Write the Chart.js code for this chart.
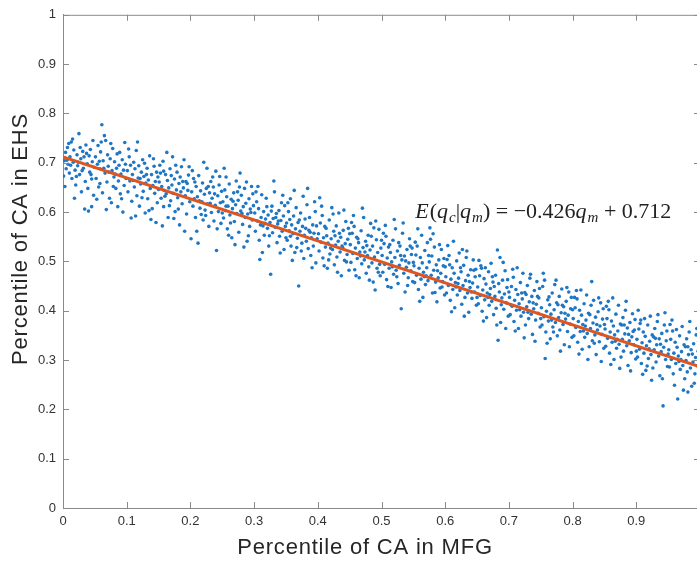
<!DOCTYPE html>
<html><head><meta charset="utf-8">
<script src="https://cdn.jsdelivr.net/npm/chart.js@4.4.0/dist/chart.umd.min.js"></script>
<style>html,body{margin:0;padding:0;overflow:hidden;background:#fff}#wrap{position:relative;width:712px;height:561px}</style>
</head><body><div id="wrap"><canvas id="c" width="712" height="561"></canvas></div>
<script>
// Scatter points: [percentile of CA in MFG, percentile of CA in EHS]
const percentileMFGvsEHS = [
[0.001,0.673],[0.002,0.704],[0.004,0.721],[0.005,0.688],[0.007,0.731],[0.008,0.697],[0.010,0.679],[0.011,0.712],[0.013,0.742],[0.014,0.668],[0.016,0.701],[0.017,0.726],[0.019,0.685],[0.020,0.655],[0.022,0.716],[0.023,0.694],[0.025,0.759],[0.026,0.676],[0.028,0.708],[0.029,0.641],[0.031,0.723],[0.032,0.689],[0.034,0.606],[0.035,0.662],[0.036,0.736],[0.038,0.698],[0.039,0.648],[0.041,0.714],[0.042,0.681],[0.043,0.727],[0.045,0.667],[0.046,0.702],[0.047,0.745],[0.048,0.634],[0.049,0.691],[0.044,0.676],[0.027,0.731],[0.012,0.695],[0.033,0.712],[0.040,0.602],
[0.051,0.712],[0.052,0.668],[0.054,0.697],[0.055,0.735],[0.056,0.651],[0.058,0.688],[0.059,0.722],[0.061,0.777],[0.062,0.639],[0.063,0.704],[0.065,0.755],[0.066,0.679],[0.067,0.745],[0.069,0.661],[0.070,0.716],[0.071,0.693],[0.073,0.628],[0.074,0.708],[0.076,0.619],[0.077,0.684],[0.078,0.729],[0.080,0.671],[0.081,0.702],[0.083,0.648],[0.084,0.689],[0.085,0.718],[0.087,0.663],[0.088,0.695],[0.090,0.637],[0.091,0.677],[0.093,0.706],[0.094,0.600],[0.095,0.685],[0.096,0.654],[0.098,0.697],[0.099,0.668],[0.057,0.703],[0.072,0.681],[0.086,0.611],[0.079,0.652],
[0.101,0.684],[0.102,0.641],[0.104,0.712],[0.105,0.663],[0.106,0.695],[0.108,0.622],[0.109,0.676],[0.111,0.701],[0.112,0.651],[0.113,0.688],[0.115,0.725],[0.116,0.633],[0.118,0.669],[0.119,0.694],[0.120,0.612],[0.122,0.657],[0.123,0.681],[0.125,0.706],[0.126,0.642],[0.127,0.672],[0.129,0.598],[0.130,0.659],[0.132,0.689],[0.133,0.627],[0.134,0.665],[0.136,0.714],[0.137,0.648],[0.139,0.676],[0.140,0.607],[0.141,0.654],[0.143,0.693],[0.144,0.638],[0.145,0.662],[0.147,0.681],[0.148,0.619],[0.149,0.671],[0.114,0.592],[0.128,0.699],[0.138,0.585],[0.121,0.668],
[0.151,0.661],[0.152,0.695],[0.154,0.628],[0.155,0.652],[0.157,0.703],[0.158,0.611],[0.159,0.644],[0.161,0.676],[0.162,0.637],[0.164,0.664],[0.165,0.589],[0.166,0.649],[0.168,0.688],[0.169,0.623],[0.171,0.655],[0.172,0.712],[0.173,0.638],[0.175,0.667],[0.176,0.601],[0.178,0.645],[0.179,0.681],[0.180,0.629],[0.182,0.658],[0.183,0.574],[0.185,0.641],[0.186,0.692],[0.187,0.617],[0.189,0.649],[0.190,0.706],[0.192,0.633],[0.193,0.662],[0.194,0.596],[0.196,0.644],[0.197,0.675],[0.199,0.621],[0.160,0.632],[0.174,0.587],[0.184,0.671],[0.195,0.658],[0.153,0.679],
[0.201,0.546],[0.202,0.641],[0.204,0.612],[0.205,0.668],[0.206,0.627],[0.208,0.589],[0.209,0.652],[0.211,0.631],[0.212,0.537],[0.213,0.674],[0.215,0.608],[0.216,0.643],[0.218,0.621],[0.219,0.659],[0.220,0.584],[0.222,0.636],[0.223,0.604],[0.225,0.648],[0.226,0.689],[0.227,0.617],[0.229,0.571],[0.230,0.639],[0.232,0.662],[0.233,0.599],[0.234,0.628],[0.236,0.651],[0.237,0.582],[0.239,0.614],[0.240,0.683],[0.241,0.522],[0.243,0.633],[0.244,0.601],[0.245,0.655],[0.247,0.619],[0.248,0.577],[0.249,0.642],[0.207,0.661],[0.217,0.595],[0.228,0.652],[0.238,0.637],
[0.251,0.621],[0.252,0.588],[0.254,0.645],[0.255,0.603],[0.257,0.631],[0.258,0.566],[0.259,0.612],[0.261,0.657],[0.262,0.594],[0.264,0.626],[0.265,0.548],[0.266,0.607],[0.268,0.639],[0.269,0.581],[0.271,0.615],[0.272,0.663],[0.273,0.597],[0.275,0.624],[0.276,0.559],[0.278,0.679],[0.279,0.602],[0.280,0.634],[0.282,0.575],[0.283,0.611],[0.285,0.648],[0.286,0.589],[0.287,0.618],[0.289,0.541],[0.290,0.596],[0.292,0.627],[0.293,0.571],[0.294,0.606],[0.296,0.652],[0.297,0.584],[0.299,0.613],[0.256,0.671],[0.263,0.578],[0.274,0.641],[0.284,0.529],[0.295,0.599],
[0.301,0.598],[0.302,0.561],[0.304,0.621],[0.305,0.582],[0.307,0.607],[0.308,0.543],[0.309,0.504],[0.311,0.589],[0.312,0.635],[0.314,0.572],[0.315,0.601],[0.316,0.553],[0.318,0.586],[0.319,0.628],[0.321,0.567],[0.322,0.594],[0.323,0.531],[0.325,0.579],[0.326,0.474],[0.328,0.612],[0.329,0.558],[0.330,0.587],[0.332,0.641],[0.333,0.569],[0.335,0.597],[0.336,0.538],[0.337,0.576],[0.339,0.603],[0.340,0.551],[0.342,0.583],[0.343,0.619],[0.344,0.561],[0.346,0.592],[0.347,0.524],[0.349,0.571],[0.306,0.652],[0.317,0.577],[0.327,0.602],[0.338,0.582],[0.348,0.613],
[0.351,0.578],[0.352,0.543],[0.354,0.601],[0.355,0.562],[0.357,0.627],[0.358,0.531],[0.359,0.574],[0.361,0.556],[0.362,0.592],[0.364,0.518],[0.365,0.566],[0.366,0.609],[0.368,0.547],[0.369,0.579],[0.370,0.450],[0.372,0.561],[0.373,0.598],[0.375,0.537],[0.376,0.571],[0.378,0.506],[0.379,0.553],[0.380,0.586],[0.382,0.541],[0.383,0.615],[0.385,0.526],[0.386,0.563],[0.387,0.589],[0.389,0.512],[0.390,0.548],[0.392,0.574],[0.393,0.531],[0.394,0.557],[0.396,0.601],[0.397,0.497],[0.399,0.546],[0.356,0.585],[0.367,0.528],[0.377,0.632],[0.388,0.559],[0.398,0.572],
[0.401,0.556],[0.402,0.521],[0.404,0.578],[0.405,0.539],[0.407,0.593],[0.408,0.507],[0.409,0.548],[0.411,0.571],[0.412,0.529],[0.414,0.552],[0.415,0.486],[0.416,0.537],[0.418,0.584],[0.419,0.515],[0.421,0.546],[0.422,0.609],[0.423,0.524],[0.425,0.561],[0.426,0.493],[0.428,0.533],[0.429,0.572],[0.430,0.509],[0.432,0.541],[0.433,0.598],[0.435,0.519],[0.436,0.549],[0.437,0.471],[0.439,0.528],[0.440,0.563],[0.442,0.502],[0.443,0.536],[0.444,0.581],[0.446,0.514],[0.447,0.545],[0.449,0.482],[0.406,0.612],[0.417,0.503],[0.427,0.552],[0.438,0.531],[0.448,0.567],
[0.451,0.534],[0.452,0.498],[0.454,0.557],[0.455,0.516],[0.457,0.571],[0.458,0.483],[0.459,0.527],[0.461,0.549],[0.462,0.506],[0.464,0.538],[0.465,0.467],[0.466,0.519],[0.468,0.562],[0.469,0.495],[0.471,0.528],[0.472,0.589],[0.473,0.503],[0.475,0.541],[0.476,0.476],[0.478,0.512],[0.479,0.553],[0.480,0.489],[0.482,0.523],[0.483,0.577],[0.485,0.497],[0.486,0.531],[0.487,0.458],[0.489,0.509],[0.490,0.442],[0.492,0.544],[0.493,0.486],[0.494,0.518],[0.496,0.565],[0.497,0.494],[0.499,0.527],[0.456,0.593],[0.467,0.511],[0.477,0.532],[0.488,0.568],[0.498,0.471],
[0.501,0.512],[0.502,0.478],[0.504,0.536],[0.505,0.494],[0.507,0.551],[0.508,0.463],[0.509,0.507],[0.511,0.529],[0.512,0.486],[0.514,0.518],[0.515,0.447],[0.516,0.499],[0.518,0.543],[0.519,0.474],[0.521,0.508],[0.522,0.566],[0.523,0.482],[0.525,0.521],[0.526,0.455],[0.528,0.492],[0.529,0.531],[0.531,0.404],[0.532,0.503],[0.533,0.557],[0.535,0.476],[0.536,0.511],[0.537,0.438],[0.539,0.488],[0.540,0.524],[0.542,0.467],[0.543,0.497],[0.544,0.546],[0.546,0.481],[0.547,0.514],[0.549,0.459],[0.506,0.573],[0.517,0.489],[0.527,0.538],[0.538,0.501],[0.548,0.527],
[0.551,0.491],[0.552,0.457],[0.554,0.513],[0.555,0.472],[0.557,0.566],[0.558,0.443],[0.559,0.486],[0.561,0.508],[0.562,0.464],[0.564,0.497],[0.565,0.427],[0.566,0.478],[0.568,0.522],[0.569,0.453],[0.571,0.487],[0.572,0.538],[0.573,0.461],[0.575,0.499],[0.576,0.568],[0.578,0.472],[0.579,0.511],[0.580,0.436],[0.582,0.482],[0.583,0.529],[0.585,0.458],[0.586,0.493],[0.587,0.418],[0.589,0.467],[0.590,0.503],[0.592,0.446],[0.593,0.476],[0.594,0.524],[0.596,0.459],[0.597,0.491],[0.599,0.432],[0.556,0.531],[0.567,0.469],[0.577,0.545],[0.588,0.481],[0.598,0.506],
[0.601,0.469],[0.602,0.436],[0.604,0.532],[0.605,0.451],[0.607,0.493],[0.608,0.421],[0.609,0.464],[0.611,0.487],[0.612,0.443],[0.614,0.476],[0.615,0.406],[0.616,0.457],[0.618,0.501],[0.619,0.432],[0.621,0.466],[0.622,0.517],[0.623,0.441],[0.625,0.479],[0.626,0.413],[0.628,0.451],[0.629,0.492],[0.631,0.427],[0.632,0.461],[0.633,0.508],[0.635,0.436],[0.636,0.472],[0.637,0.397],[0.639,0.447],[0.640,0.483],[0.642,0.425],[0.643,0.456],[0.644,0.503],[0.646,0.438],[0.647,0.469],[0.649,0.411],[0.606,0.512],[0.617,0.448],[0.627,0.524],[0.638,0.459],[0.648,0.484],
[0.651,0.448],[0.652,0.414],[0.654,0.471],[0.655,0.431],[0.657,0.486],[0.658,0.399],[0.659,0.442],[0.661,0.465],[0.662,0.422],[0.664,0.454],[0.665,0.386],[0.666,0.436],[0.668,0.479],[0.669,0.411],[0.671,0.445],[0.672,0.496],[0.673,0.419],[0.675,0.458],[0.676,0.392],[0.678,0.429],[0.679,0.472],[0.680,0.405],[0.682,0.523],[0.683,0.340],[0.685,0.438],[0.686,0.508],[0.687,0.376],[0.689,0.426],[0.690,0.462],[0.692,0.403],[0.693,0.434],[0.694,0.481],[0.696,0.416],[0.697,0.447],[0.699,0.389],[0.656,0.491],[0.667,0.427],[0.677,0.449],[0.688,0.412],[0.698,0.463],
[0.701,0.427],[0.702,0.392],[0.704,0.449],[0.705,0.409],[0.707,0.468],[0.708,0.378],[0.709,0.421],[0.711,0.443],[0.712,0.401],[0.714,0.433],[0.715,0.364],[0.716,0.414],[0.718,0.457],[0.719,0.389],[0.721,0.424],[0.722,0.476],[0.723,0.397],[0.725,0.437],[0.726,0.371],[0.728,0.408],[0.729,0.451],[0.731,0.384],[0.732,0.418],[0.733,0.466],[0.735,0.393],[0.736,0.429],[0.737,0.352],[0.739,0.404],[0.740,0.441],[0.742,0.381],[0.743,0.413],[0.744,0.459],[0.746,0.395],[0.747,0.426],[0.749,0.367],[0.706,0.484],[0.717,0.402],[0.727,0.433],[0.738,0.416],[0.748,0.445],
[0.751,0.406],[0.752,0.371],[0.754,0.476],[0.755,0.388],[0.757,0.303],[0.758,0.357],[0.759,0.399],[0.761,0.422],[0.762,0.379],[0.764,0.412],[0.765,0.343],[0.766,0.393],[0.768,0.436],[0.769,0.367],[0.771,0.402],[0.772,0.453],[0.773,0.376],[0.775,0.416],[0.776,0.349],[0.778,0.386],[0.779,0.429],[0.780,0.361],[0.782,0.396],[0.783,0.444],[0.785,0.372],[0.786,0.408],[0.787,0.331],[0.789,0.383],[0.790,0.419],[0.792,0.358],[0.793,0.391],[0.794,0.438],[0.796,0.373],[0.797,0.404],[0.799,0.346],[0.756,0.462],[0.767,0.381],[0.777,0.412],[0.788,0.395],[0.798,0.427],
[0.801,0.384],[0.802,0.349],[0.804,0.406],[0.805,0.366],[0.807,0.424],[0.808,0.336],[0.809,0.378],[0.811,0.401],[0.812,0.358],[0.814,0.391],[0.815,0.322],[0.816,0.372],[0.818,0.414],[0.819,0.346],[0.821,0.381],[0.822,0.432],[0.823,0.354],[0.825,0.395],[0.826,0.327],[0.828,0.364],[0.830,0.459],[0.831,0.339],[0.832,0.375],[0.833,0.421],[0.835,0.351],[0.836,0.387],[0.837,0.311],[0.839,0.361],[0.840,0.398],[0.842,0.337],[0.843,0.369],[0.844,0.416],[0.846,0.352],[0.847,0.383],[0.849,0.324],[0.806,0.441],[0.817,0.359],[0.827,0.392],[0.838,0.372],[0.848,0.404],
[0.851,0.363],[0.852,0.328],[0.854,0.384],[0.855,0.344],[0.857,0.402],[0.858,0.314],[0.859,0.357],[0.861,0.379],[0.862,0.336],[0.864,0.369],[0.865,0.301],[0.866,0.351],[0.868,0.393],[0.869,0.324],[0.871,0.359],[0.872,0.411],[0.873,0.332],[0.875,0.373],[0.876,0.306],[0.878,0.342],[0.879,0.386],[0.880,0.318],[0.882,0.353],[0.883,0.401],[0.885,0.329],[0.886,0.365],[0.887,0.289],[0.889,0.339],[0.890,0.376],[0.892,0.315],[0.893,0.347],[0.894,0.394],[0.896,0.331],[0.897,0.361],[0.899,0.302],[0.856,0.419],[0.867,0.338],[0.877,0.371],[0.888,0.352],[0.898,0.382],
[0.901,0.342],[0.902,0.306],[0.904,0.363],[0.905,0.322],[0.907,0.381],[0.908,0.293],[0.909,0.335],[0.911,0.357],[0.912,0.314],[0.914,0.348],[0.915,0.279],[0.916,0.329],[0.918,0.371],[0.919,0.303],[0.921,0.338],[0.922,0.389],[0.923,0.311],[0.925,0.351],[0.926,0.284],[0.928,0.321],[0.929,0.364],[0.931,0.296],[0.932,0.331],[0.933,0.378],[0.935,0.308],[0.936,0.343],[0.937,0.268],[0.939,0.317],[0.940,0.354],[0.942,0.207],[0.943,0.326],[0.945,0.396],[0.946,0.301],[0.947,0.339],[0.949,0.287],[0.906,0.374],[0.917,0.288],[0.927,0.347],[0.938,0.332],[0.948,0.359],
[0.951,0.321],[0.952,0.286],[0.954,0.342],[0.955,0.301],[0.957,0.359],[0.958,0.272],[0.959,0.314],[0.961,0.336],[0.962,0.293],[0.964,0.326],[0.965,0.221],[0.966,0.308],[0.968,0.349],[0.969,0.281],[0.971,0.317],[0.972,0.368],[0.973,0.289],[0.975,0.331],[0.976,0.262],[0.978,0.299],[0.979,0.343],[0.980,0.276],[0.982,0.311],[0.983,0.357],[0.985,0.284],[0.986,0.321],[0.987,0.247],[0.989,0.296],[0.990,0.333],[0.992,0.272],[0.993,0.305],[0.994,0.351],[0.996,0.288],[0.997,0.318],[0.999,0.259],[0.956,0.381],[0.967,0.297],[0.977,0.327],[0.988,0.312],[0.998,0.338]
];
const extraMFGvsEHS = [
[0.003,0.652],[0.009,0.739],[0.018,0.628],[0.024,0.701],[0.030,0.684],[0.037,0.719],[0.015,0.748],[0.045,0.611],[0.006,0.705],[0.021,0.672],
[0.053,0.626],[0.060,0.742],[0.064,0.689],[0.068,0.605],[0.075,0.739],[0.082,0.677],[0.089,0.721],[0.092,0.627],[0.097,0.741],[0.058,0.658],
[0.103,0.728],[0.107,0.588],[0.110,0.664],[0.117,0.742],[0.124,0.629],[0.131,0.676],[0.135,0.603],[0.142,0.708],[0.146,0.579],[0.150,0.646],
[0.156,0.572],[0.163,0.721],[0.167,0.613],[0.170,0.674],[0.177,0.695],[0.181,0.606],[0.188,0.662],[0.191,0.561],[0.198,0.692],[0.158,0.683],
[0.203,0.684],[0.210,0.561],[0.214,0.623],[0.221,0.701],[0.224,0.593],[0.231,0.618],[0.235,0.671],[0.242,0.566],[0.246,0.672],[0.250,0.598],
[0.253,0.689],[0.260,0.553],[0.267,0.622],[0.270,0.534],[0.277,0.651],[0.281,0.597],[0.288,0.661],[0.291,0.552],[0.298,0.637],[0.256,0.612],
[0.303,0.641],[0.310,0.574],[0.313,0.518],[0.320,0.611],[0.324,0.552],[0.331,0.663],[0.334,0.589],[0.341,0.517],[0.345,0.634],[0.350,0.548],
[0.353,0.619],[0.360,0.502],[0.363,0.644],[0.371,0.584],[0.374,0.521],[0.381,0.567],[0.384,0.648],[0.391,0.487],[0.395,0.621],[0.357,0.551],
[0.403,0.629],[0.410,0.491],[0.413,0.567],[0.420,0.527],[0.424,0.596],[0.431,0.478],[0.434,0.557],[0.441,0.604],[0.445,0.499],[0.450,0.556],
[0.453,0.579],[0.460,0.471],[0.463,0.546],[0.470,0.608],[0.474,0.519],[0.481,0.462],[0.484,0.551],[0.491,0.582],[0.495,0.478],[0.500,0.543],
[0.503,0.557],[0.510,0.449],[0.513,0.534],[0.520,0.585],[0.524,0.469],[0.530,0.512],[0.534,0.578],[0.541,0.451],[0.545,0.531],[0.550,0.498],
[0.553,0.539],[0.560,0.419],[0.563,0.553],[0.570,0.471],[0.574,0.512],[0.581,0.556],[0.584,0.437],[0.591,0.534],[0.595,0.448],[0.600,0.489],
[0.603,0.504],[0.610,0.398],[0.613,0.541],[0.620,0.455],[0.624,0.487],[0.630,0.389],[0.634,0.521],[0.641,0.438],[0.645,0.482],[0.650,0.427],
[0.653,0.502],[0.660,0.379],[0.663,0.487],[0.670,0.433],[0.674,0.469],[0.681,0.371],[0.684,0.455],[0.691,0.498],[0.695,0.364],[0.700,0.438],
[0.703,0.412],[0.710,0.359],[0.713,0.487],[0.720,0.436],[0.724,0.345],[0.730,0.397],[0.734,0.474],[0.741,0.338],[0.745,0.429],[0.750,0.384],
[0.753,0.449],[0.760,0.334],[0.763,0.428],[0.770,0.357],[0.774,0.462],[0.781,0.318],[0.784,0.411],[0.791,0.447],[0.795,0.327],[0.800,0.402],
[0.803,0.427],[0.810,0.312],[0.813,0.442],[0.820,0.369],[0.824,0.301],[0.829,0.411],[0.834,0.334],[0.841,0.426],[0.845,0.297],[0.850,0.372],
[0.853,0.409],[0.860,0.291],[0.863,0.426],[0.870,0.342],[0.874,0.283],[0.881,0.371],[0.884,0.419],[0.891,0.278],[0.895,0.358],[0.900,0.318],
[0.903,0.401],[0.910,0.271],[0.913,0.384],[0.920,0.323],[0.924,0.259],[0.930,0.344],[0.934,0.392],[0.941,0.262],[0.944,0.371],[0.950,0.312],
[0.953,0.372],[0.960,0.249],[0.963,0.362],[0.970,0.301],[0.974,0.239],[0.981,0.327],[0.984,0.378],[0.991,0.253],[0.995,0.364],[0.981,0.235]
];
const fitSlope = -0.426;
const fitIntercept = 0.712;
const fitRange = [0, 1];
const xTickValues = [0,0.1,0.2,0.3,0.4,0.5,0.6,0.7,0.8,0.9,1];
const xTickLabels = ['0','0.1','0.2','0.3','0.4','0.5','0.6','0.7','0.8','0.9','1'];
const yTickValues = [0,0.1,0.2,0.3,0.4,0.5,0.6,0.7,0.8,0.9,1];
const yTickLabels = ['0','0.1','0.2','0.3','0.4','0.5','0.6','0.7','0.8','0.9','1'];
const xAxisTitle = 'Percentile of CA in MFG';
const yAxisTitle = 'Percentile of CA in EHS';
const equationAnchor = {x: 0.553, y: 0.588};

const SANS = "'Liberation Sans', Arial, Helvetica, sans-serif";
const AXIS_COLOR = '#8a8a8a';
const TEXT_COLOR = '#333333';

const scatterData = percentileMFGvsEHS.concat(extraMFGvsEHS).map(p => ({x: p[0], y: p[1]}));
const fitData = fitRange.map(x => ({x: x, y: fitIntercept + fitSlope * x}));

const boxPlugin = {
  id: 'boxTicks',
  afterDatasetsDraw(chart) {
    const {ctx, chartArea: a, scales: {x, y}} = chart;
    ctx.save();
    ctx.strokeStyle = AXIS_COLOR;
    ctx.lineWidth = 1;
    ctx.beginPath();
    ctx.moveTo(a.left, a.top + 0.5); ctx.lineTo(a.right, a.top + 0.5);
    ctx.moveTo(a.right - 0.5, a.top); ctx.lineTo(a.right - 0.5, a.bottom);
    const L = 6;
    xTickValues.forEach(v => {
      const px = Math.round(x.getPixelForValue(v)) + 0.5;
      ctx.moveTo(px, a.bottom); ctx.lineTo(px, a.bottom - L);
      ctx.moveTo(px, a.top); ctx.lineTo(px, a.top + L);
    });
    yTickValues.forEach(v => {
      const py = Math.round(y.getPixelForValue(v)) + 0.5;
      ctx.moveTo(a.left, py); ctx.lineTo(a.left + L, py);
      ctx.moveTo(a.right, py); ctx.lineTo(a.right - L, py);
    });
    ctx.stroke();
    ctx.restore();
  },
  afterDraw(chart) {
    const {ctx, scales: {x, y}} = chart;
    // axis titles
    ctx.save();
    ctx.fillStyle = '#262626';
    ctx.font = `22px ${SANS}`;
    if ('letterSpacing' in ctx) ctx.letterSpacing = '0.8px';
    ctx.textAlign = 'center';
    ctx.textBaseline = 'middle';
    ctx.fillText(xAxisTitle, 365, 548);
    ctx.translate(20.5, 239);
    ctx.rotate(-Math.PI / 2);
    ctx.fillText(yAxisTitle, 0, 0);
    ctx.restore();
    // fit equation
    const px = x.getPixelForValue(equationAnchor.x);
    const py = y.getPixelForValue(equationAnchor.y);
    const fs = 22;
    const serif = "'Liberation Serif', 'DejaVu Serif', serif";
    const parts = [
      ['E', 'italic', 0, 1], ['(', 'normal', 0, 1], ['q', 'italic', 0, 1], ['c', 'italic', 4, 0.7],
      ['|', 'normal', 0, 1], ['q', 'italic', 0, 1], ['m', 'italic', 4, 0.7], [')', 'normal', 0, 1],
      [' = \u22120.426', 'normal', 0, 1], ['q', 'italic', 0, 1], ['m', 'italic', 4, 0.7], [' + 0.712', 'normal', 0, 1]
    ];
    ctx.save();
    ctx.fillStyle = '#222222';
    ctx.textBaseline = 'alphabetic';
    ctx.textAlign = 'left';
    let cx = px;
    parts.forEach(([t, st, dy, sc]) => {
      ctx.font = `${st} ${Math.round(fs * sc)}px ${serif}`;
      ctx.fillText(t, cx, py + dy);
      cx += ctx.measureText(t).width + (st === 'italic' && sc === 1 ? 1 : 0);
    });
    ctx.restore();
  }
};

new Chart(document.getElementById('c'), {
  data: {
    datasets: [
      {type: 'line', data: fitData, borderColor: '#DE5520', borderWidth: 3, pointRadius: 0, fill: false, order: 0},
      {type: 'scatter', data: scatterData, backgroundColor: '#1f77c4', borderWidth: 0, pointRadius: 1.8, pointHoverRadius: 1.8, order: 1}
    ]
  },
  options: {
    responsive: false,
    animation: false,
    devicePixelRatio: 1,
    layout: {padding: {top: 6, right: 12, left: 0, bottom: 0}},
    plugins: {legend: {display: false}, tooltip: {enabled: false}},
    events: [],
    scales: {
      x: {
        type: 'linear', min: 0, max: 1,
        afterBuildTicks: s => { s.ticks = xTickValues.map(v => ({value: v})); },
        afterFit: s => { s.height = 53; },
        ticks: {callback: (v, i) => xTickLabels[i], color: TEXT_COLOR, font: {family: SANS, size: 13}, padding: 6, maxRotation: 0, autoSkip: false},
        grid: {drawOnChartArea: false, drawTicks: false},
        border: {display: true, color: AXIS_COLOR, width: 1},
        title: {display: false}
      },
      y: {
        type: 'linear', min: 0, max: 1,
        afterBuildTicks: s => { s.ticks = yTickValues.map(v => ({value: v})); },
        afterFit: s => { s.width = 63; },
        ticks: {callback: (v, i) => yTickLabels[i], color: TEXT_COLOR, font: {family: SANS, size: 13}, padding: 7, autoSkip: false},
        grid: {drawOnChartArea: false, drawTicks: false},
        border: {display: true, color: AXIS_COLOR, width: 1},
        title: {display: false}
      }
    }
  },
  plugins: [boxPlugin]
});
</script>
</body></html>
